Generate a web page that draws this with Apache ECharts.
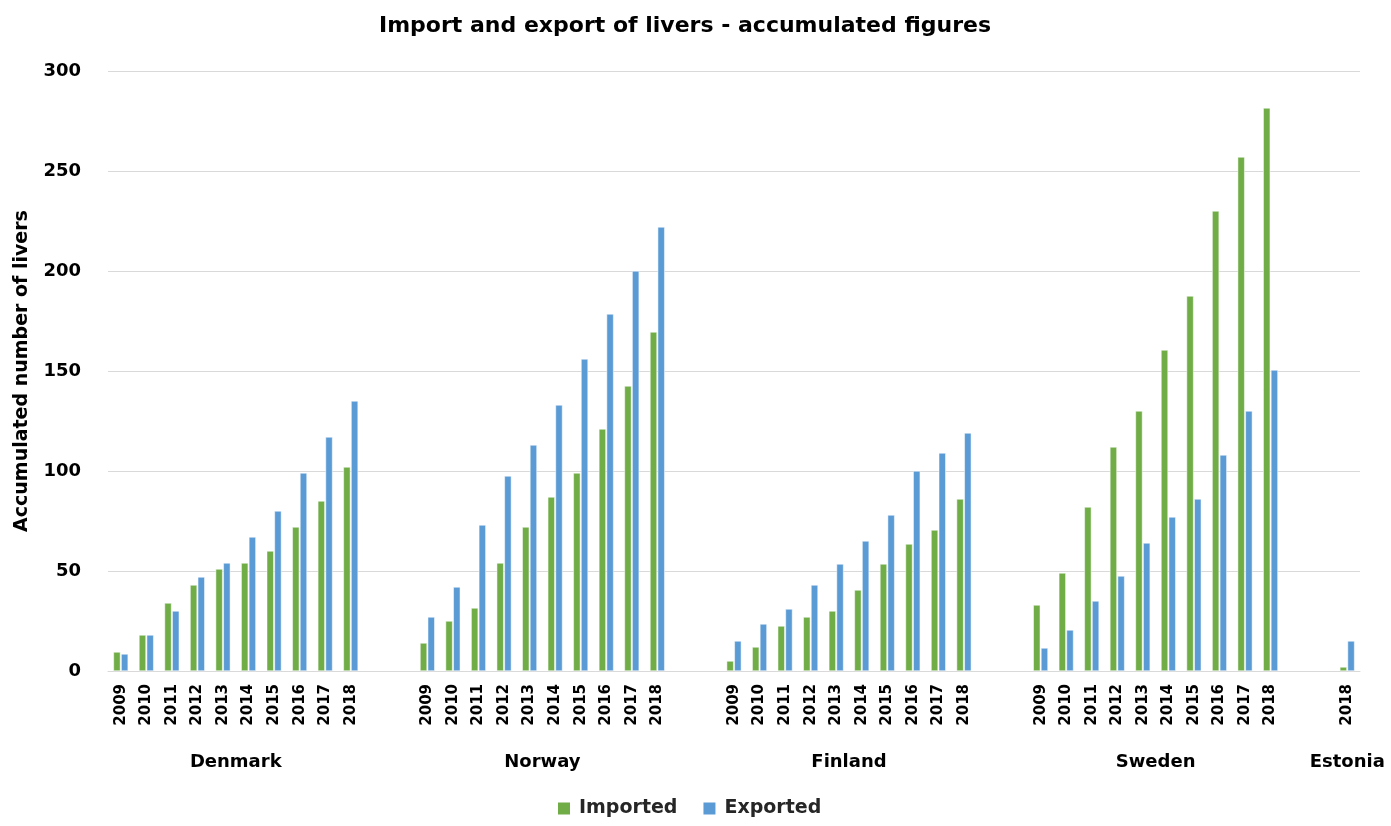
<!DOCTYPE html>
<html>
<head>
<meta charset="utf-8">
<script src="https://cdn.jsdelivr.net/npm/echarts@6/dist/echarts.min.js"></script>
<style>
html,body{margin:0;padding:0;background:#fff;}
#chart{width:1391px;height:826px;}
</style>
</head>
<body>
<div id="chart"></div>
<script>
const years = ['2009','2010','2011','2012','2013','2014','2015','2016','2017','2018'];
const countries = ['Denmark','Norway','Finland','Sweden','Estonia'];
const estoniaYears = ['2018'];

const denmarkImported = [9.5,18,34,43,51,54,60,72,85,102];
const denmarkExported = [8.5,18,30,47,54,67,80,99,117,135];
const norwayImported = [14,25,31.5,54,72,87,99,121,142.5,169.5];
const norwayExported = [27,42,73,97.5,113,133,156,178.5,200,222];
const finlandImported = [5,12,22.5,27,30,40.5,53.5,63.5,70.5,86];
const finlandExported = [15,23.5,31,43,53.5,65,78,100,109,119];
const swedenImported = [33,49,82,112,130,160.5,187.5,230,257,281.5];
const swedenExported = [11.5,20.5,35,47.5,64,77,86,108,130,150.5];
const estoniaImported = [2];
const estoniaExported = [15];

const yTicks = [0,50,100,150,200,250,300];

const groups = [
  {name: countries[0], years: years, imp: denmarkImported, exp: denmarkExported},
  {name: countries[1], years: years, imp: norwayImported, exp: norwayExported},
  {name: countries[2], years: years, imp: finlandImported, exp: finlandExported},
  {name: countries[3], years: years, imp: swedenImported, exp: swedenExported},
  {name: countries[4], years: estoniaYears, imp: estoniaImported, exp: estoniaExported}
];

const cats = [], impData = [], expData = [], countryPos = {};
groups.forEach(function(g, gi){
  if (gi > 0) {
    for (let k = 0; k < 2; k++) { cats.push('gap' + gi + '_' + k); impData.push(null); expData.push(null); }
  }
  const start = cats.length;
  g.years.forEach(function(y, i){
    cats.push(g.name + '|' + y);
    impData.push(g.imp[i]);
    expData.push(g.exp[i]);
  });
  const end = cats.length - 1;
  countryPos[(start + end) / 2] = g.name;
});

const chart = echarts.init(document.getElementById('chart'));
const fontFam = '"DejaVu Sans", "Open Sans", sans-serif';
chart.setOption({
  animation: false,
  title: {
    text: 'Import and export of livers - accumulated figures',
    left: 680, textAlign: 'center', top: 10,
    textStyle: {fontFamily: fontFam, fontWeight: 'bold', fontSize: 22, color: '#000'}
  },
  legend: {
    data: ['Imported','Exported'],
    bottom: 3, left: 553,
    itemWidth: 12, itemHeight: 12, itemGap: 26,
    icon: 'rect',
    itemStyle: {borderWidth: 0},
    textStyle: {fontFamily: fontFam, fontWeight: 'bold', fontSize: 19, color: '#262626', padding: [0,0,0,4]}
  },
  grid: {left: 108, right: 31, top: 71, bottom: 155, containLabel: false},
  xAxis: [
    {
      type: 'category', data: cats, position: 'bottom',
      axisLine: {show: true, lineStyle: {color: '#d9d9d9', width: 1}},
      axisTick: {show: false},
      axisLabel: {
        interval: 0, rotate: 90, margin: 13,
        fontFamily: fontFam, fontWeight: 'bold', fontSize: 15, color: '#000',
        formatter: function(v){ return v.indexOf('|') >= 0 ? v.split('|')[1] : ''; }
      }
    },
    {
      type: 'value', position: 'bottom', min: -0.5, max: cats.length - 0.5, interval: 0.5,
      axisLine: {show: false}, axisTick: {show: false}, splitLine: {show: false},
      axisLabel: {
        margin: 82, showMinLabel: true, showMaxLabel: true,
        fontFamily: fontFam, fontWeight: 'bold', fontSize: 18, color: '#000',
        formatter: function(v){ return countryPos[v] || ''; }
      }
    }
  ],
  yAxis: {
    type: 'value', min: yTicks[0], max: yTicks[yTicks.length-1], interval: 50,
    name: 'Accumulated number of livers', nameLocation: 'middle', nameGap: 76, nameRotate: 90,
    nameTextStyle: {fontFamily: fontFam, fontWeight: 'bold', fontSize: 19, color: '#000'},
    axisLine: {show: false}, axisTick: {show: false},
    axisLabel: {margin: 27, fontFamily: fontFam, fontWeight: 'bold', fontSize: 18, color: '#000'},
    splitLine: {lineStyle: {color: '#d9d9d9', width: 1}}
  },
  series: [
    {name: 'Imported', type: 'bar', xAxisIndex: 0, data: impData, barWidth: 7, barGap: '10%',
     itemStyle: {color: '#70AD47', borderColor: '#ffffff', borderWidth: 0.5}},
    {name: 'Exported', type: 'bar', xAxisIndex: 0, data: expData, barWidth: 7, barGap: '10%',
     itemStyle: {color: '#5B9BD5', borderColor: '#ffffff', borderWidth: 0.5}}
  ]
});
</script>
</body>
</html>
